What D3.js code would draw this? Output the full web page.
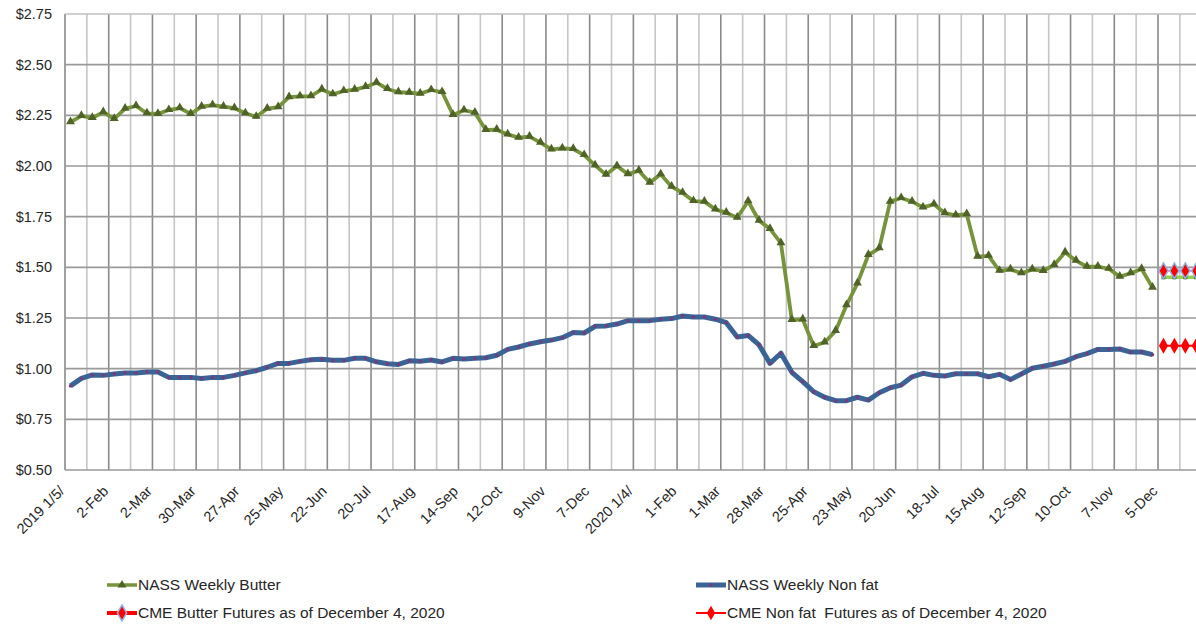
<!DOCTYPE html>
<html>
<head>
<meta charset="utf-8">
<script src="https://cdn.jsdelivr.net/npm/d3@7"></script>
<style>
  body { margin: 0; background: #fff; }
  svg { display: block; font-family: "Liberation Sans", Arial, sans-serif; }
  .legend text { white-space: pre; }
</style>
</head>
<body>
<svg id="chart" width="1196" height="627"></svg>
<script>
var width = 1196;
var height = 627;

// weekly prices, $/lb, Jan 5 2019 .. Nov 28 2020 (100 weeks)
var butter = [
  2.216, 2.247, 2.237, 2.266, 2.232, 2.283, 2.296, 2.26, 2.257, 2.276,
  2.286, 2.257, 2.293, 2.30, 2.293, 2.285, 2.26, 2.243, 2.283, 2.29,
  2.34, 2.344, 2.345, 2.378, 2.354, 2.37, 2.377, 2.39, 2.411, 2.38,
  2.364, 2.362, 2.357, 2.375, 2.365, 2.252, 2.275, 2.263, 2.178, 2.179,
  2.156, 2.14, 2.145, 2.115, 2.082, 2.087, 2.084, 2.054, 2.003, 1.957,
  2.0, 1.96, 1.977, 1.918, 1.959, 1.898, 1.868, 1.827, 1.824, 1.786,
  1.77, 1.745, 1.826, 1.73, 1.69, 1.619, 1.24, 1.243, 1.112, 1.13,
  1.186, 1.313, 1.421, 1.561, 1.594, 1.824, 1.842, 1.824, 1.796, 1.811,
  1.767, 1.757, 1.762, 1.553, 1.557, 1.483, 1.49, 1.471, 1.49, 1.482,
  1.512, 1.574, 1.533, 1.503, 1.503, 1.493, 1.454, 1.471, 1.492, 1.40
];

var nonfat = [
  0.915, 0.952, 0.969, 0.967, 0.974, 0.979, 0.979, 0.984, 0.984, 0.957,
  0.957, 0.957, 0.952, 0.957, 0.957, 0.967, 0.979, 0.99, 1.007, 1.026,
  1.026, 1.036, 1.044, 1.047, 1.041, 1.041, 1.051, 1.051, 1.034, 1.024,
  1.021, 1.039, 1.037, 1.043, 1.033, 1.051, 1.048, 1.051, 1.054, 1.066,
  1.095, 1.107, 1.122, 1.133, 1.141, 1.153, 1.178, 1.176, 1.209, 1.211,
  1.22, 1.237, 1.237, 1.237, 1.244, 1.247, 1.26, 1.255, 1.255, 1.244,
  1.227, 1.156, 1.164, 1.117, 1.026, 1.076, 0.982, 0.936, 0.886, 0.859,
  0.842, 0.842, 0.859, 0.845, 0.881, 0.906, 0.919, 0.96, 0.977, 0.967,
  0.964, 0.975, 0.975, 0.975, 0.96, 0.972, 0.946, 0.974, 1.002, 1.012,
  1.023, 1.036, 1.059, 1.074, 1.095, 1.095, 1.097, 1.082, 1.082, 1.069
];

// CME futures as of Dec 4 2020, starting at the 5-Dec week
var butterFutures = [1.483, 1.483, 1.483, 1.483];
var butterFuturesLow = [1.451, 1.451, 1.451, 1.451];
var nonfatFutures = [1.113, 1.113, 1.113, 1.113];
var futuresStart = 100;
var nCategories = 104;

// a label every 4th week
var tickLabels = [
  "2019 1/5/", "2-Feb", "2-Mar", "30-Mar", "27-Apr", "25-May", "22-Jun",
  "20-Jul", "17-Aug", "14-Sep", "12-Oct", "9-Nov", "7-Dec",
  "2020 1/4/", "1-Feb", "1-Mar", "28-Mar", "25-Apr", "23-May", "20-Jun",
  "18-Jul", "15-Aug", "12-Sep", "10-Oct", "7-Nov", "5-Dec"
];
var yTicks = [0.5, 0.75, 1.0, 1.25, 1.5, 1.75, 2.0, 2.25, 2.5, 2.75];

var legendItems = [
  { name: "NASS Weekly Butter", kind: "butter" },
  { name: "NASS Weekly Non fat", kind: "nonfat" },
  { name: "CME Butter Futures as of December 4, 2020", kind: "butterFut" },
  { name: "CME Non fat  Futures as of December 4, 2020", kind: "nonfatFut" }
];

var margin = { left: 65, top: 14, bottom: 470 };
var step = 10.93;

var svg = d3.select("#chart");

var x = d3.scaleBand()
  .domain(d3.range(nCategories))
  .range([margin.left, margin.left + nCategories * step])
  .paddingInner(0).paddingOuter(0);
var cx = function(i) { return x(i) + x.bandwidth() / 2; };

var y = d3.scaleLinear()
  .domain([0.5, 2.75])
  .range([margin.bottom, margin.top]);

var fmt = d3.format("$.2f");

// ~~~~ gridlines ~~~~
var grid = svg.append("g");
var vlines = d3.range(0, nCategories, 2);
grid.selectAll("line.v")
  .data(vlines)
  .enter().append("line")
  .attr("class", "v")
  .attr("x1", function(i) { return x(i); })
  .attr("x2", function(i) { return x(i); })
  .attr("y1", margin.top).attr("y2", margin.bottom)
  .attr("stroke", function(i) { return i % 4 == 0 ? "#8a8a8a" : "#c6c6c6"; })
  .attr("stroke-width", 1.6);

grid.selectAll("line.h")
  .data(yTicks)
  .enter().append("line")
  .attr("class", "h")
  .attr("x1", margin.left).attr("x2", width)
  .attr("y1", function(d) { return y(d); })
  .attr("y2", function(d) { return y(d); })
  .attr("stroke", function(d) { return d == 2.75 ? "#c0c0c0" : "#9a9a9a"; })
  .attr("stroke-width", 1.6);

// ~~~~ axes labels ~~~~
svg.append("g").selectAll("text")
  .data(yTicks)
  .enter().append("text")
  .attr("x", 52)
  .attr("y", function(d) { return y(d); })
  .attr("dy", "0.35em")
  .attr("text-anchor", "end")
  .attr("font-size", 14.5)
  .attr("fill", "#262626")
  .text(function(d) { return fmt(d); });

svg.append("g").selectAll("text")
  .data(tickLabels)
  .enter().append("text")
  .attr("transform", function(d, k) {
    return "translate(" + (cx(k * 4) - 5) + ",492) rotate(-45)";
  })
  .attr("text-anchor", "end")
  .attr("font-size", 14.5)
  .attr("fill", "#262626")
  .text(function(d) { return d; });

// ~~~~ series ~~~~
var line = d3.line()
  .x(function(d) { return cx(d.i); })
  .y(function(d) { return y(d.v); });

function toPts(arr, start) {
  return arr.map(function(v, k) { return { i: start + k, v: v }; });
}

var butterPts = toPts(butter, 0);
var nonfatPts = toPts(nonfat, 0);
var bfPts = toPts(butterFutures, futuresStart);
var bfLowPts = toPts(butterFuturesLow, futuresStart);
var nfPts = toPts(nonfatFutures, futuresStart);

var tri = d3.symbol().type(d3.symbolTriangle).size(34);
var dia = d3.symbol().type(d3.symbolDiamond).size(72);

// nonfat
svg.append("path").datum(nonfatPts)
  .attr("d", line).attr("fill", "none")
  .attr("stroke", "#3a6496").attr("stroke-width", 5)
  .attr("stroke-linejoin", "round");
svg.append("g").selectAll("circle")
  .data(nonfatPts).enter().append("circle")
  .attr("cx", function(d) { return cx(d.i); })
  .attr("cy", function(d) { return y(d.v); })
  .attr("r", 1.7).attr("fill", "#7a3a78");

// butter
svg.append("path").datum(butterPts)
  .attr("d", line).attr("fill", "none")
  .attr("stroke", "#77933c").attr("stroke-width", 3.8)
  .attr("stroke-linejoin", "round");
svg.append("g").selectAll("path")
  .data(butterPts).enter().append("path")
  .attr("d", tri)
  .attr("transform", function(d) { return "translate(" + cx(d.i) + "," + (y(d.v) - 0.5) + ")"; })
  .attr("fill", "#4f6228");

// butter futures, lower green band
svg.append("path").datum(bfLowPts)
  .attr("d", line).attr("fill", "none")
  .attr("stroke", "#92d050").attr("stroke-width", 3.5);
svg.append("g").selectAll("rect")
  .data(bfLowPts).enter().append("rect")
  .attr("x", function(d) { return cx(d.i) - 2; })
  .attr("y", function(d) { return y(d.v) - 2; })
  .attr("width", 4).attr("height", 4)
  .attr("fill", "#4f6228");

// butter futures
svg.append("path").datum(bfPts)
  .attr("d", line).attr("fill", "none")
  .attr("stroke", "#8db4e2").attr("stroke-width", 2);
svg.append("g").selectAll("path")
  .data(bfPts).enter().append("path")
  .attr("d", dia)
  .attr("transform", function(d) { return "translate(" + cx(d.i) + "," + y(d.v) + ")"; })
  .attr("fill", "#ff0000").attr("stroke", "#8db4e2").attr("stroke-width", 1.5);

// nonfat futures
svg.append("path").datum(nfPts)
  .attr("d", line).attr("fill", "none")
  .attr("stroke", "#ff0000").attr("stroke-width", 2);
svg.append("g").selectAll("path")
  .data(nfPts).enter().append("path")
  .attr("d", dia)
  .attr("transform", function(d) { return "translate(" + cx(d.i) + "," + y(d.v) + ")"; })
  .attr("fill", "#ff0000");

// ~~~~ legend ~~~~
var legend = svg.append("g").attr("class", "legend");
var lg = legend.selectAll("g")
  .data(legendItems)
  .enter().append("g")
  .attr("transform", function(d, k) {
    var lx = k % 2 == 0 ? 107 : 696;
    var ly = k < 2 ? 585 : 613;
    return "translate(" + lx + "," + ly + ")";
  });

lg.append("line")
  .attr("x1", 0).attr("x2", 30).attr("y1", 0).attr("y2", 0)
  .attr("stroke", function(d) {
    return d.kind == "butter" ? "#77933c" : d.kind == "nonfat" ? "#3a6496" : "#ff0000";
  })
  .attr("stroke-width", function(d) {
    return d.kind == "butter" ? 3.5 : d.kind == "nonfat" ? 5 : d.kind == "butterFut" ? 4 : 2;
  });

lg.append("path")
  .attr("d", function(d) {
    if (d.kind == "butter") return tri();
    if (d.kind == "nonfat") return d3.symbol().type(d3.symbolCircle).size(9)();
    return d3.symbol().type(d3.symbolDiamond).size(d.kind == "butterFut" ? 75 : 60)();
  })
  .attr("transform", "translate(15,0)")
  .attr("fill", function(d) {
    return d.kind == "butter" ? "#4f6228" : d.kind == "nonfat" ? "#7a3a78" : "#ff0000";
  })
  .attr("stroke", function(d) { return d.kind == "butterFut" ? "#8db4e2" : "none"; })
  .attr("stroke-width", 1.5);

lg.append("text")
  .attr("x", 31)
  .attr("y", 0)
  .attr("dy", "0.35em")
  .attr("font-size", 15.5)
  .attr("fill", "#262626")
  .text(function(d) { return d.name; });
</script>
</body>
</html>
